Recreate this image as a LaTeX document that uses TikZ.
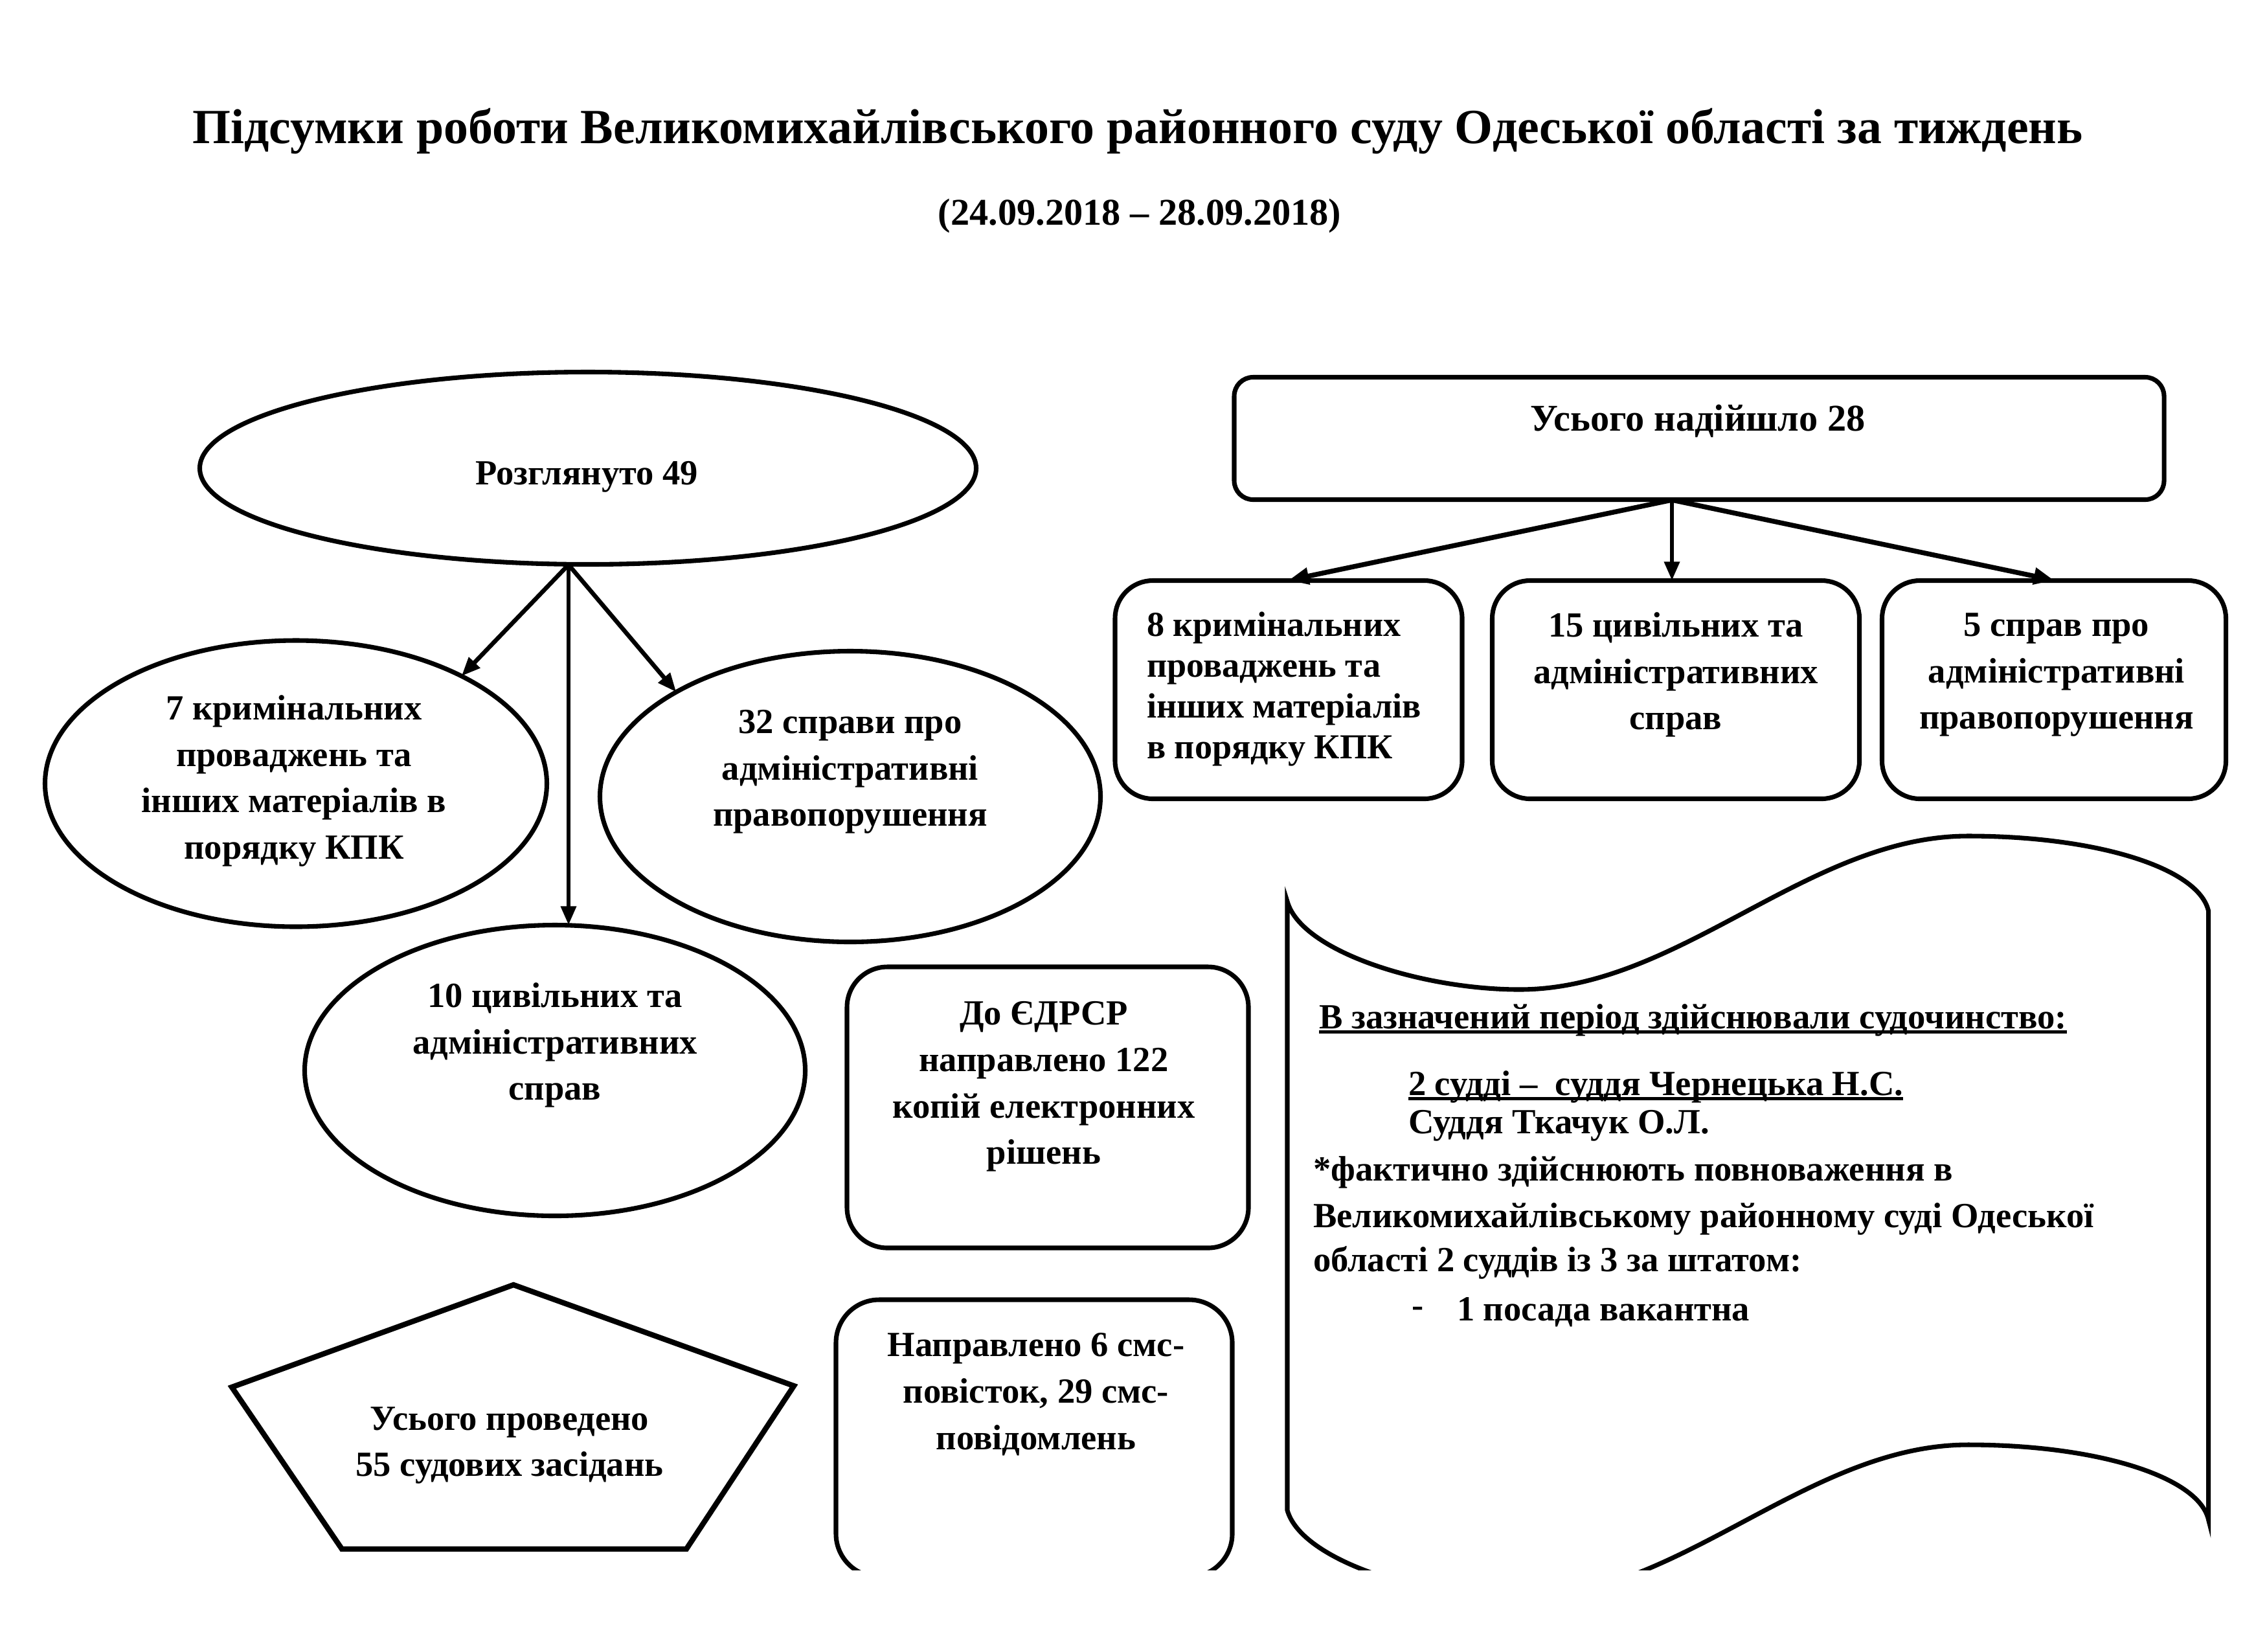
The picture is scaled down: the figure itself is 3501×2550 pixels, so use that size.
\documentclass[tikz,border=0pt]{standalone}
\usepackage{fontspec}
\setmainfont{Liberation Serif}
\usetikzlibrary{shapes.geometric,arrows.meta}
\newcommand\myul[1]{\setbox0\hbox{#1}\rlap{\rule[-1.8pt]{\wd0}{1.2pt}}\box0}
\begin{document}
\begin{tikzpicture}[x=0.24pt,y=-0.24pt,
  every node/.style={font=\bfseries\fontsize{13.1}{17.2}\selectfont, inner sep=0pt, outer sep=0pt},
  shp/.style={draw, line width=1.7pt},
  ell/.style={shp, ellipse},
  rbox/.style={shp, rectangle, rounded corners=#1},
  txt/.style={align=center},
  arr/.style={line width=1.6pt, -{Triangle[length=7pt,width=5.5pt]}},
  arrb/.style={line width=1.8pt, -{Triangle[length=7.5pt,width=6pt]}},
]
\useasboundingbox (0,0) rectangle (3501,2550);

% title
\node[anchor=base, font=\bfseries\fontsize{18.2}{21}\selectfont] (title) at (1757,221)
  {Підсумки роботи Великомихайлівського районного суду Одеської області за тиждень};
\node[anchor=base, font=\bfseries\fontsize{14}{17}\selectfont] (sub) at (1760,347) {(24.09.2018 – 28.09.2018)};

% left tree
\node[ell, minimum width=1199*0.24pt, minimum height=297*0.24pt] (ros) at (908,723) {};
\node[txt] (rost) at (906,736) {Розглянуто 49};
\coordinate (rosb) at (878,872);

\node[ell, minimum width=775*0.24pt, minimum height=442*0.24pt] (e7) at (457,1210) {};
\node[txt] (e7t) at (454,1206) {7 кримінальних\\проваджень та\\інших матеріалів в\\порядку КПК};

\node[ell, minimum width=773*0.24pt, minimum height=449*0.24pt] (e32) at (1313,1230) {};
\node[txt] (e32t) at (1313,1192) {32 справи про\\адміністративні\\правопорушення};

\node[ell, minimum width=773*0.24pt, minimum height=449*0.24pt] (e10) at (857,1653) {};
\node[txt] (e10t) at (857,1614) {10 цивільних та\\адміністративних\\справ};

\draw[arr] (rosb) -- (e7.33);
\draw[arr] (rosb) -- (rosb |- e10.north);
\draw[arr] (rosb) -- (e32.149);

% right tree
\node[rbox=7pt, minimum width=1436*0.24pt, minimum height=189*0.24pt] (r28) at (2624,677) {};
\node[txt, font=\bfseries\fontsize{14}{17}\selectfont] (r28t) at (2622,650) {Усього надійшло 28};
\coordinate (r28s) at (2582,772);

\node[rbox=14pt, minimum width=536*0.24pt, minimum height=337*0.24pt] (b8) at (1990,1065) {};
\node[align=left, anchor=west, font=\bfseries\fontsize{13}{15.1}\selectfont] (b8t) at (1771,1064)
  {8 кримінальних\\проваджень та\\інших матеріалів\\в порядку КПК};

\node[rbox=14pt, minimum width=567*0.24pt, minimum height=337*0.24pt] (b15) at (2588,1065) {};
\node[txt] (b15t) at (2588,1042) {15 цивільних та\\адміністративних\\справ};

\node[rbox=14pt, minimum width=531*0.24pt, minimum height=337*0.24pt] (b5) at (3172,1065) {};
\node[txt] (b5t) at (3176,1042) {5 справ про\\адміністративні\\правопорушення};

\draw[arrb] (r28s) -- (1994,896 -| b8.north);
\draw[arr] (r28s) -- (r28s |- b15.north);
\draw[arrb] (r28s) -- (3176,896 -| b5.north);

% EDRSR box
\node[rbox=15pt, minimum width=620*0.24pt, minimum height=434*0.24pt] (edr) at (1618,1710) {};
\node[txt] (edrt) at (1612,1678) {До ЄДРСР\\направлено 122\\копій електронних\\рішень};

% pentagon
\coordinate (p1) at (793,1984);
\coordinate (p2) at (1226,2140);
\coordinate (p3) at (1060,2392);
\coordinate (p4) at (528,2392);
\coordinate (p5) at (358,2142);
\draw[shp, line width=2pt, line join=miter] (p1) -- (p2) -- (p3) -- (p4) -- (p5) -- cycle;
\node[txt] (pt) at (787,2232) {Усього проведено\\55 судових засідань};

% clipped bottom shapes
\begin{scope}
\clip (0,0) rectangle (3501,2424);
\node[rbox=16pt, minimum width=612*0.24pt, minimum height=428*0.24pt, anchor=north] (sms) at (1597,2007) {};
\begin{scope}[shift={(1988,0)}, xscale=0.99, shift={(-1988,0)}]
\draw[shp] (1988,1392) .. controls (2010,1470) and (2200,1528) .. (2350,1528)
  .. controls (2600,1528) and (2800,1291) .. (3050,1291)
  .. controls (3250,1291) and (3410,1340) .. (3425,1407)
  -- (3425,2347)
  .. controls (3410,2280) and (3250,2231) .. (3050,2231)
  .. controls (2800,2231) and (2600,2468) .. (2350,2468)
  .. controls (2200,2468) and (2010,2410) .. (1988,2332)
  -- cycle;
\end{scope}
\end{scope}
\node[txt] (smst) at (1600,2153) {Направлено 6 смс-\\повісток, 29 смс-\\повідомлень};

% scroll text
\node[anchor=west] (s1) at (2037,1575) {\myul{В зазначений період здійснювали судочинство:}};
\node[anchor=west] (s2) at (2175,1678) {\myul{2 судді –\ \ суддя Чернецька Н.С.}};
\node[anchor=west] (s3) at (2175,1738) {Суддя Ткачук О.Л.};
\node[anchor=west] (s4) at (2028,1810) {*фактично здійснюють повноваження в};
\node[anchor=west] (s5) at (2028,1882) {Великомихайлівському районному суді Одеської};
\node[anchor=west] (s6) at (2028,1950) {області 2 суддів із 3 за штатом:};
\node[anchor=west] (s7a) at (2180,2026) {-};
\node[anchor=west] (s7) at (2250,2026) {1 посада вакантна};
\end{tikzpicture}
\end{document}
